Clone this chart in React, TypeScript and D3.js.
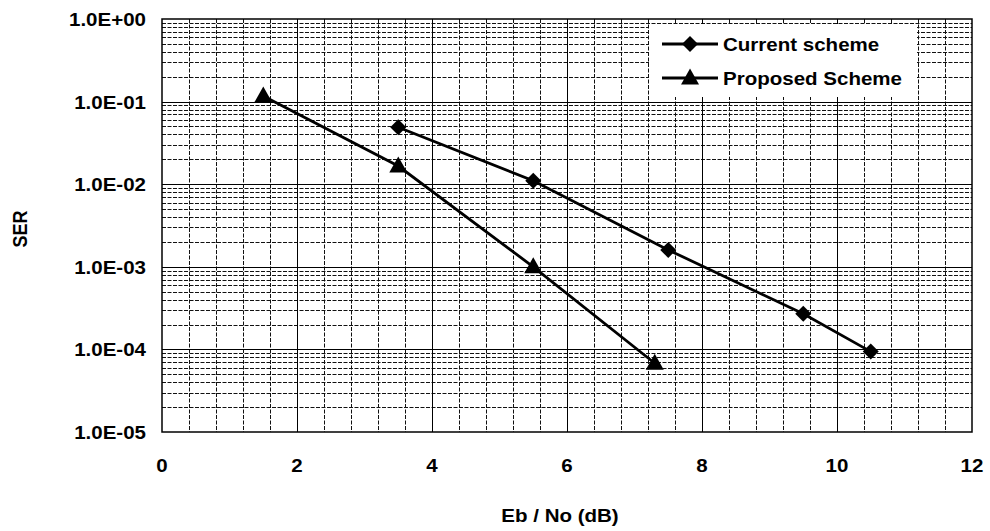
import React, { useEffect, useRef } from "react";
import * as d3 from "d3";

// Eb/No (dB) vs SER
const currentX = [3.5, 5.5, 7.5, 9.5, 10.5];
const currentY = [0.049, 0.011, 0.0016, 0.00027, 0.000094];
const proposedX = [1.5, 3.5, 5.5, 7.3];
const proposedY = [0.117, 0.0166, 0.001, 0.000068];
const xTicks = [0, 2, 4, 6, 8, 10, 12];
const yTicks = [1, 1e-1, 1e-2, 1e-3, 1e-4, 1e-5];
const legendLabels = ["Current scheme", "Proposed Scheme"];

const W = 990;
const H = 531;
const FONT = "'Liberation Sans', Arial, sans-serif";

const App = () => {
  const svgRef = useRef<SVGSVGElement>(null);

  useEffect(() => {
    const svg = d3.select(svgRef.current);
    svg.selectAll("*").remove();

    const left = 162, right = 972, top = 19, bottom = 432;

    const x = d3.scaleLinear().domain([0, 12]).range([left, right]);
    const y = d3.scaleLog().domain([1e-5, 1]).range([bottom, top]);

    svg.append("rect").attr("width", W).attr("height", H).attr("fill", "#fff");

    const grid = svg.append("g");

    // horizontal minor (dashed) and major (solid) lines
    const minorY: number[] = [];
    for (let e = -5; e < 0; e++) {
      for (let m = 2; m <= 9; m++) minorY.push(m * Math.pow(10, e));
    }
    grid.selectAll(".hminor")
      .data(minorY)
      .enter()
      .append("line")
      .attr("x1", left)
      .attr("x2", right)
      .attr("y1", (d) => Math.round(y(d)) + 0.5)
      .attr("y2", (d) => Math.round(y(d)) + 0.5)
      .attr("stroke", "#111")
      .attr("stroke-width", 1)
      .attr("stroke-dasharray", "4,1.5");

    // vertical minor every 0.4
    const minorX = d3.range(1, 30).map((i) => i * 0.4).filter((v, i) => (i + 1) % 5 !== 0);
    grid.selectAll(".vminor")
      .data(minorX)
      .enter()
      .append("line")
      .attr("y1", top)
      .attr("y2", bottom)
      .attr("x1", (d) => Math.round(x(d)) + 0.5)
      .attr("x2", (d) => Math.round(x(d)) + 0.5)
      .attr("stroke", "#111")
      .attr("stroke-width", 1)
      .attr("stroke-dasharray", "4,1.5");

    grid.selectAll(".hmajor")
      .data(yTicks.slice(1, -1))
      .enter()
      .append("line")
      .attr("x1", left)
      .attr("x2", right)
      .attr("y1", (d) => Math.round(y(d)) + 0.5)
      .attr("y2", (d) => Math.round(y(d)) + 0.5)
      .attr("stroke", "#000")
      .attr("stroke-width", 1);

    grid.selectAll(".vmajor")
      .data(xTicks.slice(1, -1))
      .enter()
      .append("line")
      .attr("y1", top)
      .attr("y2", bottom)
      .attr("x1", (d) => Math.round(x(d)) + 0.5)
      .attr("x2", (d) => Math.round(x(d)) + 0.5)
      .attr("stroke", "#000")
      .attr("stroke-width", 1);

    // legend background
    svg.append("rect")
      .attr("x", 649)
      .attr("y", 24)
      .attr("width", 268)
      .attr("height", 73)
      .attr("fill", "#fff");

    // plot border
    svg.append("rect")
      .attr("x", left)
      .attr("y", top)
      .attr("width", right - left)
      .attr("height", bottom - top)
      .attr("fill", "none")
      .attr("stroke", "#000")
      .attr("stroke-width", 1.5);

    const addText = (tx: number, ty: number, str: string, anchor: string, rot = 0) => {
      svg.append("text")
        .attr("transform", `translate(${tx},${ty}) scale(1.14,1)${rot ? ` rotate(${rot})` : ""}`)
        .attr("text-anchor", anchor)
        .attr("font-family", FONT)
        .attr("font-weight", "bold")
        .attr("font-size", 18)
        .attr("fill", "#000")
        .text(str);
    };

    yTicks.forEach((t) => {
      const e = Math.round(Math.log10(t));
      const label = `1.0E${e < 0 ? "-" : "+"}${String(Math.abs(e)).padStart(2, "0")}`;
      addText(146, y(t) + 7, label, "end");
    });
    xTicks.forEach((t) => addText(x(t), 472, String(t), "middle"));

    addText(560, 522, "Eb / No (dB)", "middle");
    addText(27, 229, "SER", "middle", -90);

    const line = d3.line<[number, number]>()
      .x((d) => x(d[0]))
      .y((d) => y(d[1]));

    const cur: [number, number][] = currentX.map((v, i) => [v, currentY[i]]);
    const prop: [number, number][] = proposedX.map((v, i) => [v, proposedY[i]]);

    const diamond = "M0,-8L8,0L0,8L-8,0Z";
    const triangle = "M0,-9.5L9,6.5L-9,6.5Z";

    const drawSeries = (data: [number, number][], shape: string) => {
      svg.append("path")
        .datum(data)
        .attr("fill", "none")
        .attr("stroke", "#000")
        .attr("stroke-width", 2.8)
        .attr("d", line);
      svg.selectAll(null)
        .data(data)
        .enter()
        .append("path")
        .attr("d", shape)
        .attr("transform", (d) => `translate(${x(d[0])},${y(d[1])})`)
        .attr("fill", "#000");
    };
    drawSeries(cur, diamond);
    drawSeries(prop, triangle);

    // legend entries
    const shapes = [diamond, triangle];
    const ly = [44, 78];
    legendLabels.forEach((lab, i) => {
      svg.append("line")
        .attr("x1", 662)
        .attr("x2", 718)
        .attr("y1", ly[i])
        .attr("y2", ly[i])
        .attr("stroke", "#000")
        .attr("stroke-width", 2.8);
      svg.append("path")
        .attr("d", shapes[i])
        .attr("transform", `translate(690,${ly[i]})`)
        .attr("fill", "#000");
      addText(723, ly[i] + 7, lab, "start");
    });
  }, []);

  return (
    <svg
      ref={svgRef}
      width={W}
      height={H}
      style={{ position: "absolute", left: 0, top: 0, display: "block" }}
    />
  );
};

export default App;
